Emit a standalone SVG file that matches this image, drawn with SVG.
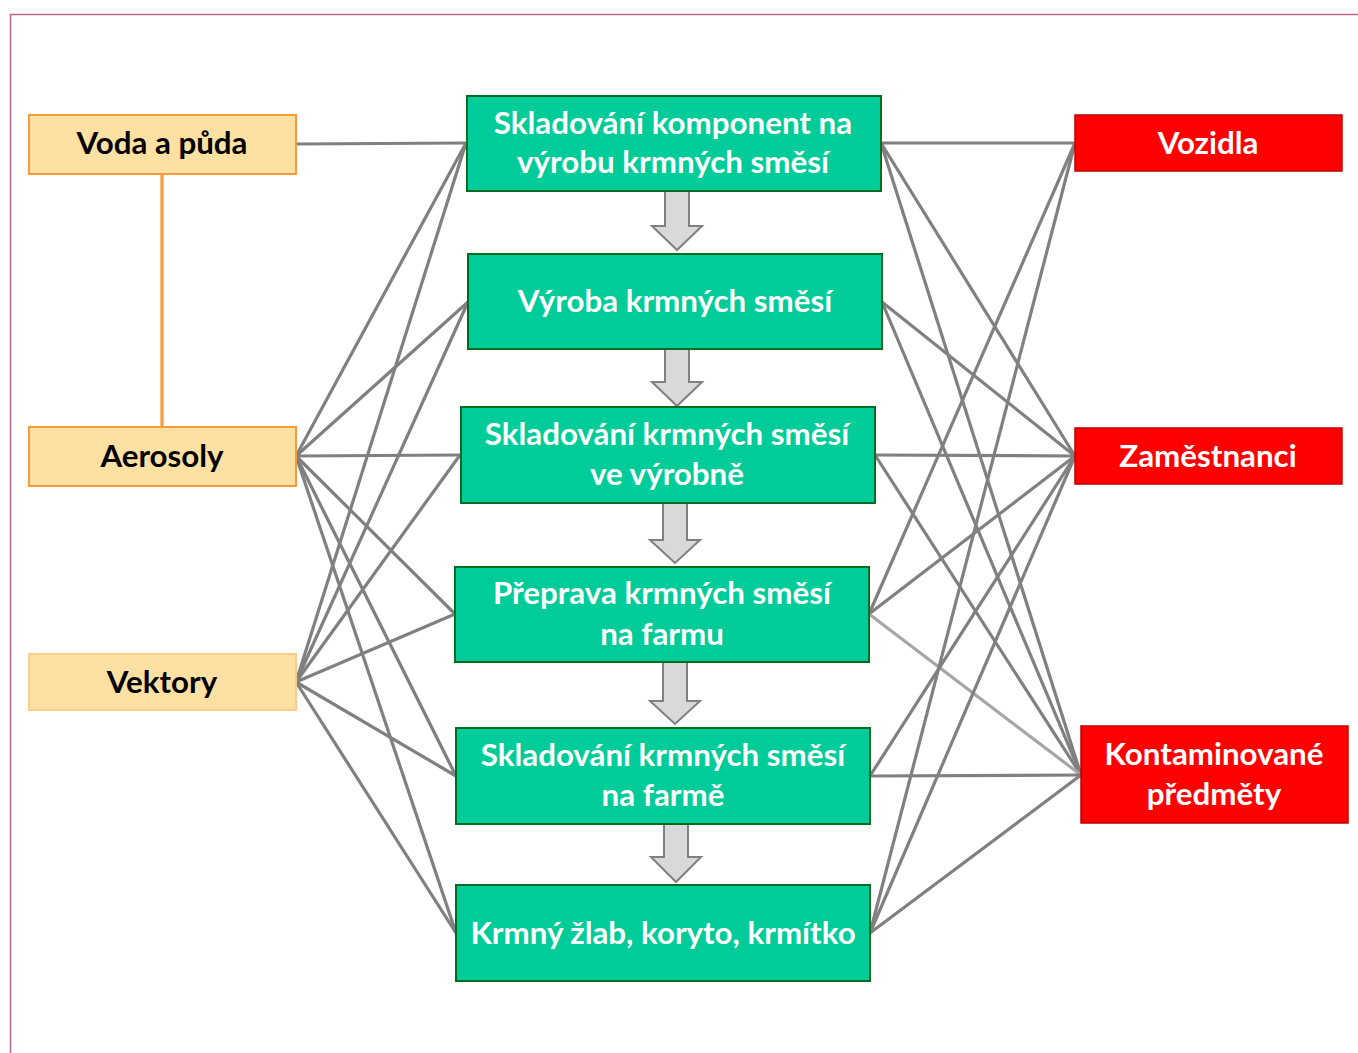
<svg xmlns="http://www.w3.org/2000/svg" width="1358" height="1053" viewBox="0 0 1358 1053">
<style>
.t{font-family:Lato,"Open Sans","Liberation Sans",sans-serif;font-weight:bold;font-size:31.3px;text-anchor:middle}
.src rect{fill:#FFE0A3;stroke:#F79A3A;stroke-width:2}
.src text{fill:#000}
.stage rect{fill:#00CC99;stroke:#006E1E;stroke-width:2}
.stage text{fill:#fff}
.risk rect{fill:#FF0000;stroke:#C00000;stroke-width:1.5}
.risk text{fill:#fff}
.c line{stroke:#808080;stroke-width:3.2}
.flow path{fill:#D9D9D9;stroke:#808080;stroke-width:2;stroke-linejoin:miter}
</style>
<rect width="1358" height="1053" fill="#fff"/>
<path d="M10.5 1053 V14.5 H1358" fill="none" stroke="#C0648C" stroke-width="1.5"/>

<g id="connectors" class="c">
  <line x1="162" y1="174" x2="162" y2="427" style="stroke:#F79A3A"/>
  <line x1="296" y1="144" x2="466" y2="143"/>
  <line x1="296" y1="456" x2="466" y2="143"/>
  <line x1="296" y1="456" x2="468" y2="302"/>
  <line x1="296" y1="456" x2="460" y2="455"/>
  <line x1="296" y1="456" x2="455" y2="614"/>
  <line x1="296" y1="456" x2="456" y2="776"/>
  <line x1="296" y1="456" x2="456" y2="933"/>
  <line x1="296" y1="682" x2="466" y2="143"/>
  <line x1="296" y1="682" x2="468" y2="302"/>
  <line x1="296" y1="682" x2="460" y2="455"/>
  <line x1="296" y1="682" x2="455" y2="614"/>
  <line x1="296" y1="682" x2="456" y2="776"/>
  <line x1="296" y1="682" x2="456" y2="933"/>
  <line x1="881" y1="143" x2="1075" y2="143"/>
  <line x1="881" y1="143" x2="1075" y2="456"/>
  <line x1="881" y1="143" x2="1081" y2="775"/>
  <line x1="882" y1="302" x2="1075" y2="456"/>
  <line x1="882" y1="302" x2="1081" y2="775"/>
  <line x1="875" y1="455" x2="1075" y2="456"/>
  <line x1="875" y1="455" x2="1081" y2="775"/>
  <line x1="869" y1="614" x2="1075" y2="143"/>
  <line x1="869" y1="614" x2="1075" y2="456"/>
  <line x1="869" y1="614" x2="1081" y2="775" style="stroke:#A6A6A6"/>
  <line x1="870" y1="776" x2="1075" y2="456"/>
  <line x1="870" y1="776" x2="1081" y2="775"/>
  <line x1="870" y1="933" x2="1075" y2="143"/>
  <line x1="870" y1="933" x2="1075" y2="456"/>
  <line x1="870" y1="933" x2="1081" y2="775"/>
</g>

<g id="flow-arrows" class="flow">
  <path d="M665 190 H689 V226 H702 L677 250 L652 226 H665 Z"/>
  <path d="M665 347 H689 V382 H702 L677 406 L652 382 H665 Z"/>
  <path d="M663 503 H687 V540 H700 L675 563 L650 540 H663 Z"/>
  <path d="M663 662 H687 V701 H700 L675 724 L650 701 H663 Z"/>
  <path d="M664 823 H688 V857 H701 L676 882 L651 857 H664 Z"/>
</g>

<g id="voda" class="src"><rect x="29" y="115" width="267" height="59"/><text class="t" x="162" y="154">Voda a půda</text></g>
<g id="aerosoly" class="src"><rect x="29" y="427" width="267" height="59"/><text class="t" x="162" y="467">Aerosoly</text></g>
<g id="vektory" class="src"><rect x="29" y="654" width="267" height="56" style="stroke:#F9CB8C"/><text class="t" x="162" y="693">Vektory</text></g>

<g id="s1" class="stage"><rect x="467" y="96" width="414" height="95"/><text class="t" x="673" y="134">Skladování komponent na</text><text class="t" x="673" y="173">výrobu krmných směsí</text></g>
<g id="s2" class="stage"><rect x="468" y="254" width="414" height="95"/><text class="t" x="675" y="312">Výroba krmných směsí</text></g>
<g id="s3" class="stage"><rect x="461" y="407" width="414" height="96"/><text class="t" x="667" y="445">Skladování krmných směsí</text><text class="t" x="667" y="485">ve výrobně</text></g>
<g id="s4" class="stage"><rect x="455" y="567" width="414" height="95"/><text class="t" x="662" y="604">Přeprava krmných směsí</text><text class="t" x="662" y="645">na farmu</text></g>
<g id="s5" class="stage"><rect x="456" y="728" width="414" height="96"/><text class="t" x="663" y="766">Skladování krmných směsí</text><text class="t" x="663" y="806">na farmě</text></g>
<g id="s6" class="stage"><rect x="456" y="885" width="414" height="96"/><text class="t" x="663" y="944">Krmný žlab, koryto, krmítko</text></g>

<g id="vozidla" class="risk"><rect x="1075" y="115" width="267" height="56"/><text class="t" x="1208" y="154">Vozidla</text></g>
<g id="zamestnanci" class="risk"><rect x="1075" y="428" width="267" height="56"/><text class="t" x="1208" y="467">Zaměstnanci</text></g>
<g id="kontaminovane" class="risk"><rect x="1081" y="726" width="267" height="97"/><text class="t" x="1214" y="765">Kontaminované</text><text class="t" x="1214" y="805">předměty</text></g>
</svg>
